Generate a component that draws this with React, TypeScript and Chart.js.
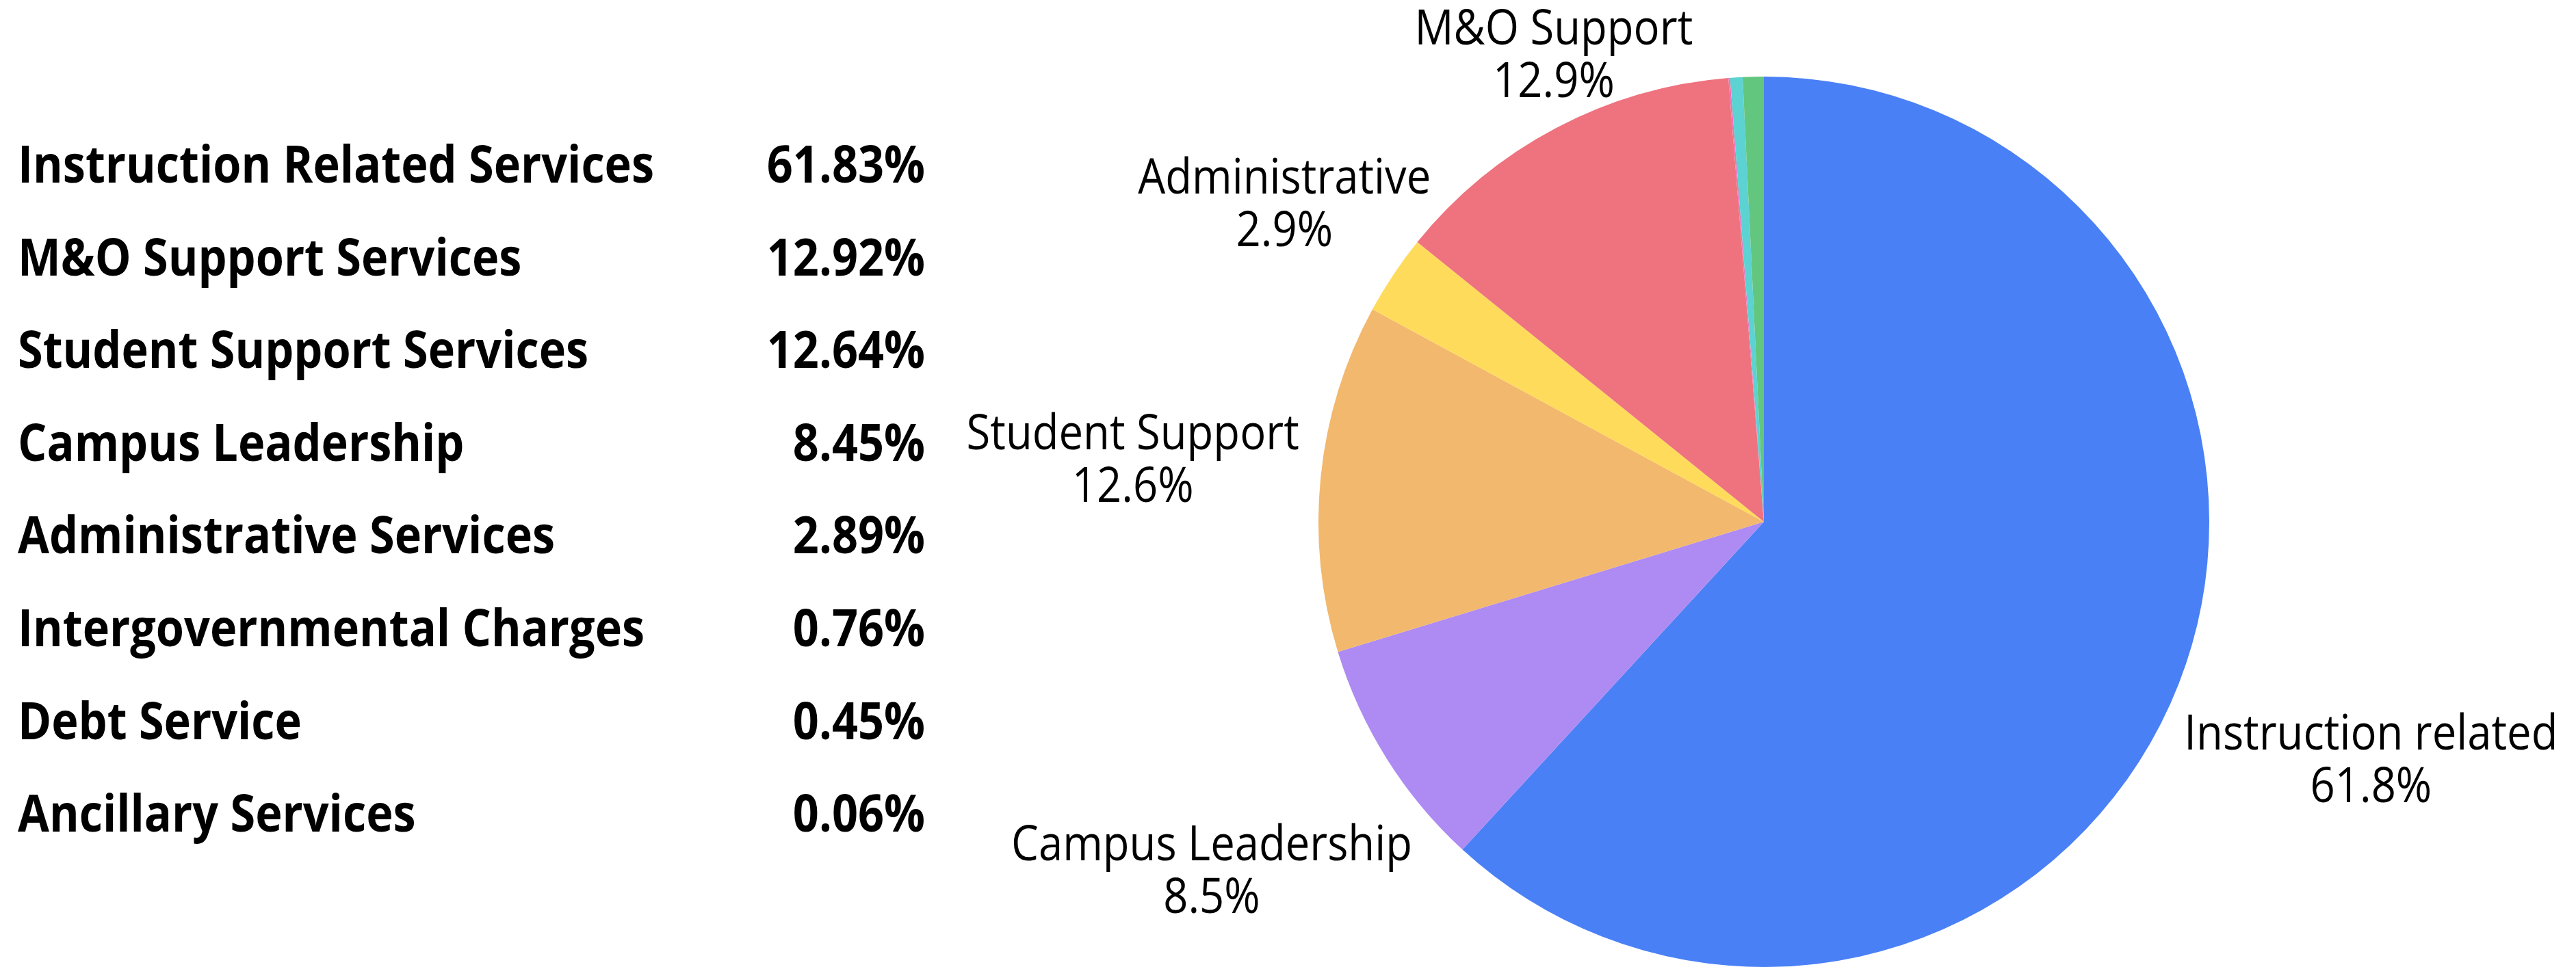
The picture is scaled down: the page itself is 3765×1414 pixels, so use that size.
import { useEffect, useRef } from 'react';
import { Chart, registerables } from 'chart.js';

Chart.register(...registerables);

// ---- data (table order) ----
const tableCategories = [
  'Instruction Related Services',
  'M&O Support Services',
  'Student Support Services',
  'Campus Leadership',
  'Administrative Services',
  'Intergovernmental Charges',
  'Debt Service',
  'Ancillary Services',
];
const tableValues = [61.83, 12.92, 12.64, 8.45, 2.89, 0.76, 0.45, 0.06];
const sliceLabels = [
  'Instruction related',
  'M&O Support',
  'Student Support',
  'Campus Leadership',
  'Administrative',
  '',
  '',
  '',
];
// order of slices clockwise from the top (indices into the table arrays)
const sliceOrder = [0, 3, 2, 4, 1, 7, 6, 5];

// ---- styles ----
const sliceColors = [
  '#4A80F5', // instruction
  '#EE737E', // M&O
  '#F2B86D', // student
  '#AD8BF2', // campus
  '#FFDB5C', // admin
  '#62C67F', // intergovernmental
  '#5CD2D2', // debt
  '#EE72B8', // ancillary
];
// label distance (in radii) and angle shift (deg) per table item
const labelDist = [1.463, 1.154, 1.424, 1.465, 1.294, 1.4, 1.4, 1.4];
const labelShift = [0, 3.7, 0, 0, 0, 0, 0, 0];

const W = 3765;
const H = 1414;

function fmt1(v: number) {
  return (Math.round(v * 10 + 1e-6) / 10).toFixed(1) + '%';
}

function drawScaled(
  ctx: CanvasRenderingContext2D,
  text: string,
  x: number,
  y: number,
  align: CanvasTextAlign,
  sx: number
) {
  ctx.save();
  ctx.translate(x, y);
  ctx.scale(sx, 1);
  ctx.textAlign = align;
  ctx.textBaseline = 'alphabetic';
  ctx.fillText(text, 0, 0);
  ctx.restore();
}

export default function App() {
  const ref = useRef<HTMLCanvasElement>(null);

  useEffect(() => {
    const canvas = ref.current;
    if (!canvas) return;

    const overlay = {
      id: 'overlayText',
      afterDraw(chart: any) {
        const ctx: CanvasRenderingContext2D = chart.ctx;
        ctx.save();
        ctx.fillStyle = '#000000';

        // left table
        const tSize = 76;
        ctx.font = `bold ${tSize}px "Open Sans"`;
        const firstBase = 267;
        const rowGap = 135.6;
        tableCategories.forEach((name, i) => {
          const y = firstBase + i * rowGap;
          drawScaled(ctx, name, 26, y, 'left', 0.876);
          drawScaled(ctx, tableValues[i].toFixed(2) + '%', 1352, y, 'right', 0.876);
        });

        // slice labels
        const meta = chart.getDatasetMeta(0);
        const lSize = 72;
        ctx.font = `${lSize}px "Open Sans"`;
        const half = 38.5;
        const capOff = 0.357 * lSize;
        meta.data.forEach((arc: any, k: number) => {
          const idx = sliceOrder[k];
          const name = sliceLabels[idx];
          if (!name) return;
          const mid =
            (arc.startAngle + arc.endAngle) / 2 + (labelShift[idx] * Math.PI) / 180;
          const d = arc.outerRadius * labelDist[idx];
          const cx = arc.x + Math.cos(mid) * d;
          const cy = arc.y + Math.sin(mid) * d;
          drawScaled(ctx, name, cx, cy - half + capOff, 'center', 0.88);
          drawScaled(ctx, fmt1(tableValues[idx]), cx, cy + half + capOff, 'center', 0.88);
        });
        ctx.restore();
      },
    };

    const chart = new Chart(canvas, {
      type: 'pie',
      data: {
        labels: sliceOrder.map((i) => tableCategories[i]),
        datasets: [
          {
            data: sliceOrder.map((i) => tableValues[i]),
            backgroundColor: sliceOrder.map((i) => sliceColors[i]),
            borderWidth: 0,
          },
        ],
      },
      options: {
        animation: false,
        responsive: false,
        devicePixelRatio: 1,
        layout: { padding: { left: 1926, right: 535, top: 112, bottom: 0 } },
        plugins: {
          legend: { display: false },
          tooltip: { enabled: false },
        },
      },
      plugins: [overlay],
    });

    return () => chart.destroy();
  }, []);

  return (
    <div
      style={{
        position: 'fixed',
        left: 0,
        top: 0,
        width: W,
        height: H,
        background: '#ffffff',
      }}
    >
      <canvas
        ref={ref}
        width={W}
        height={H}
        style={{ width: W, height: H, display: 'block' }}
      />
    </div>
  );
}
